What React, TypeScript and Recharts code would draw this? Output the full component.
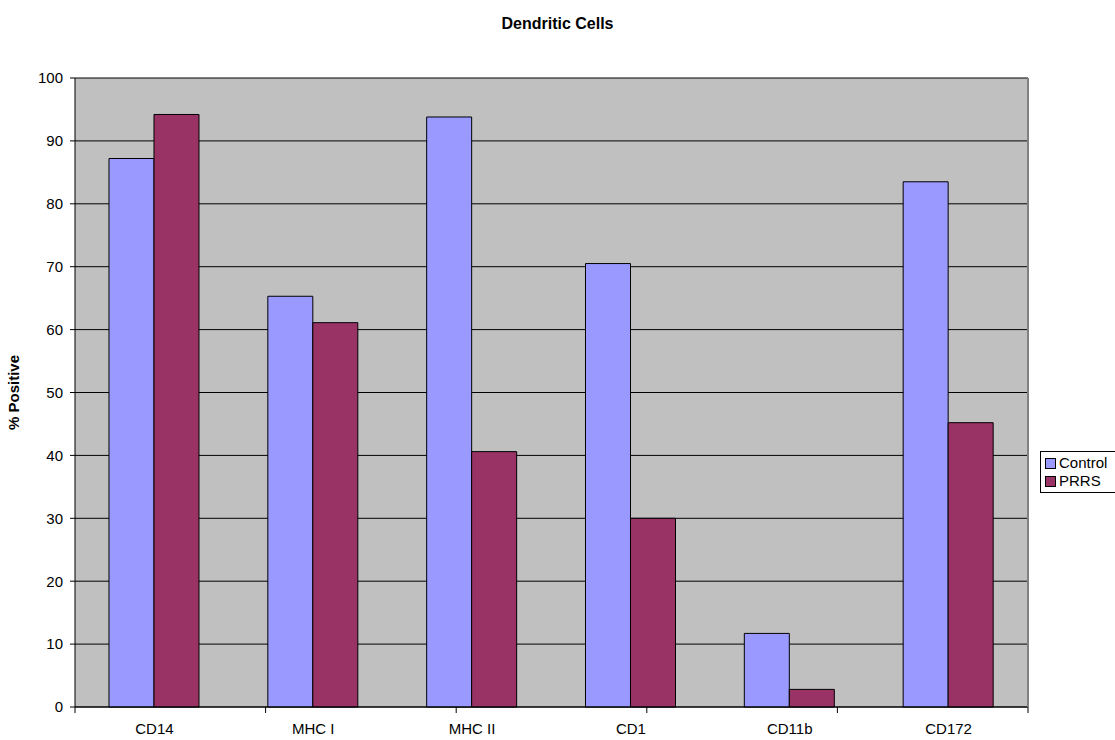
import { Bar, BarChart, CartesianGrid, XAxis, YAxis } from "recharts";

const markers = ["CD14", "MHC I", "MHC II", "CD1", "CD11b", "CD172"];
const control = [87.2, 65.3, 93.8, 70.5, 11.7, 83.5];
const prrs = [94.2, 61.1, 40.6, 30.0, 2.8, 45.2];
const yTicks = [0, 10, 20, 30, 40, 50, 60, 70, 80, 90, 100];
const edgeTicks = [0, 1, 2, 3, 4, 5, 6];

const series = [
  { key: "Control", color: "#9999FF" },
  { key: "PRRS", color: "#993366" },
];

const data = markers.map((name, i) => ({
  name,
  Control: control[i],
  PRRS: prrs[i],
}));

const font = "'Liberation Sans', Arial, sans-serif";

const LegendBox = () => (
  <div
    style={{
      position: "absolute",
      left: 1040,
      top: 451,
      border: "1px solid #000",
      borderRight: "none",
      background: "#fff",
      padding: "2px 4px",
      fontFamily: font,
      fontSize: 15,
      lineHeight: "18px",
      width: 80,
    }}
  >
    {series.map((s) => (
      <div key={s.key} style={{ display: "flex", alignItems: "center" }}>
        <span
          style={{
            width: 9,
            height: 9,
            background: s.color,
            border: "1px solid #000",
            marginRight: 3,
          }}
        />
        {s.key}
      </div>
    ))}
  </div>
);

const App = () => {
  return (
    <div style={{ position: "absolute", left: 0, top: 0, width: 1115, height: 740, background: "#fff", overflow: "hidden" }}>
      <div
        style={{
          position: "absolute",
          top: 15,
          width: 1115,
          textAlign: "center",
          fontFamily: font,
          fontWeight: "bold",
          fontSize: 16,
        }}
      >
        Dendritic Cells
      </div>
      <BarChart
        width={1115}
        height={740}
        data={data}
        margin={{ top: 78, right: 86, bottom: 0, left: 0 }}
        barCategoryGap="21.4%"
        barGap={0}
      >
        <CartesianGrid fill="#C0C0C0" stroke="#000" vertical={false} horizontalValues={yTicks} />
        {/* axis line plus tick marks between categories (sits right under the plot) */}
        <XAxis
          xAxisId={0}
          type="number"
          domain={[0, 6]}
          ticks={edgeTicks}
          interval={0}
          height={1}
          axisLine={{ stroke: "#000" }}
          tick={() => <g />}
          tickLine={{ stroke: "#000" }}
          tickSize={6}
        />
        <XAxis
          xAxisId={1}
          dataKey="name"
          height={32}
          tickLine={false}
          axisLine={false}
          tick={{ fill: "#000", fontSize: 15, fontFamily: font }}
          tickMargin={9}
          interval={0}
        />
        <YAxis
          width={75}
          domain={[0, 100]}
          ticks={yTicks}
          interval={0}
          axisLine={{ stroke: "#000" }}
          tickLine={{ stroke: "#000" }}
          tickSize={5}
          tick={{ fill: "#000", fontSize: 15, fontFamily: font }}
          tickMargin={7}
          label={{
            value: "% Positive",
            angle: -90,
            position: "insideLeft",
            offset: 14,
            style: { fontWeight: "bold", fontSize: 15, fontFamily: font, fill: "#000", textAnchor: "middle" },
          }}
        />
        <YAxis
          yAxisId="frame"
          orientation="right"
          width={1}
          domain={[0, 100]}
          tick={false}
          tickLine={false}
          axisLine={{ stroke: "#808080", strokeWidth: 2 }}
        />
        {series.map((s) => (
          <Bar
            key={s.key}
            xAxisId={1}
            dataKey={s.key}
            fill={s.color}
            stroke="#000"
            strokeWidth={1}
            isAnimationActive={false}
          />
        ))}
      </BarChart>
      <LegendBox />
    </div>
  );
};

export default App;
